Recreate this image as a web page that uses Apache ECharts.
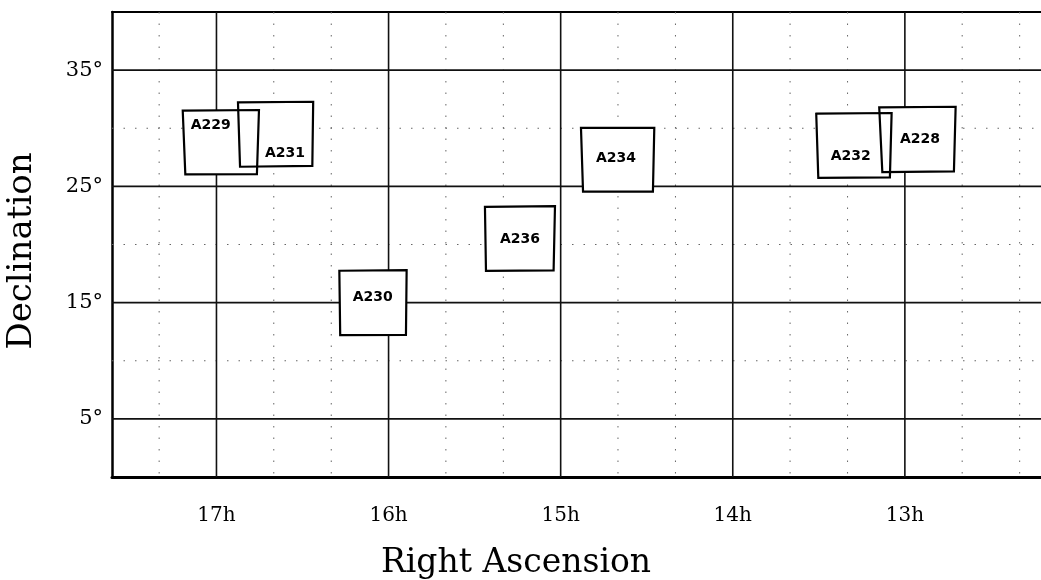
<!DOCTYPE html>
<html><head><meta charset="utf-8">
<script src="https://cdn.jsdelivr.net/npm/echarts@6/dist/echarts.min.js"></script>
<style>html,body{margin:0;padding:0;background:#fff}#c{width:1041px;height:580px}</style>
</head><body><div id="c"></div>
<script>
// Field names and their corner coordinates (TL, TR, BR, BL): RA in hours, Dec in degrees
const fieldNames = ['A228','A229','A230','A231','A232','A234','A236'];
const cornerRA = [
  [13.149,12.705,12.715,13.131],
  [17.196,16.753,16.765,17.181],
  [16.286,15.895,15.899,16.281],
  [16.875,16.438,16.443,16.863],
  [13.515,13.077,13.087,13.503],
  [14.882,14.456,14.464,14.870],
  [15.440,15.033,15.041,15.434]
];
const cornerDec = [
  [31.80,31.85,26.29,26.23],
  [31.51,31.57,26.06,26.03],
  [17.74,17.80,12.23,12.20],
  [32.23,32.28,26.77,26.69],
  [31.25,31.31,25.77,25.74],
  [30.04,30.04,24.54,24.54],
  [23.24,23.30,17.77,17.74]
];
const labelRA  = [12.912,17.033,16.092,16.602,13.315,14.679,15.236];
const labelDec = [29.07,30.28,15.45,27.84,27.55,27.41,20.44];

// Axis ticks / grid values
const raTicks  = [17,16,15,14,13];
const decTicks = [5,15,25,35];
const raMinor  = [17.333,16.667,16.333,15.667,15.333,14.667,14.333,13.667,13.333,12.667,12.333];
const decMinor = [10,20,30];
const raRange  = [12.209, 17.607];
const decRange = [0, 40];

const serif = '"DejaVu Serif", serif';
const chart = echarts.init(document.getElementById('c'), null, {renderer:'canvas'});

function boxData(){ return fieldNames.map((n,i)=>[i]); }

function gridSeries(vals, vertical, style, z){
  return {
    type:'custom', z:z, silent:true, clip:true,
    data: vals.map(v=>[v]),
    renderItem:function(params, api){
      const v = api.value(0);
      const cs = params.coordSys;
      let p1, p2;
      if (vertical){
        const x = api.coord([v, decRange[0]])[0];
        p1=[x, cs.y]; p2=[x, cs.y+cs.height];
      } else {
        const y = api.coord([raRange[0], v])[1];
        p1=[cs.x, y]; p2=[cs.x+cs.width, y];
      }
      return {type:'line', shape:{x1:p1[0],y1:p1[1],x2:p2[0],y2:p2[1]}, style:style};
    }
  };
}

const solid = {stroke:'#111', lineWidth:1.6};
const dotted = {stroke:'#666', lineWidth:1, lineDash:[1.5,10]};

const option = {
  backgroundColor:'#fff',
  animation:false,
  grid:{left:112, top:12, right:0, bottom:103},
  xAxis:[{
    type:'value', inverse:true, min:raRange[0], max:raRange[1],
    position:'bottom',
    axisLine:{show:true, onZero:false, lineStyle:{color:'#000', width:3}},
    axisTick:{show:false},
    splitLine:{show:false},
    axisLabel:{customValues:raTicks, formatter:v=>v+'h', margin:29,
      fontFamily:serif, fontSize:20, color:'#000'}
  },{
    type:'value', inverse:true, min:raRange[0], max:raRange[1],
    position:'top',
    axisLine:{show:true, onZero:false, lineStyle:{color:'#000', width:2}},
    axisTick:{show:false}, axisLabel:{show:false}, splitLine:{show:false}
  }],
  yAxis:{
    type:'value', min:decRange[0], max:decRange[1],
    axisLine:{show:true, onZero:false, lineStyle:{color:'#000', width:2.5}},
    axisTick:{show:false},
    splitLine:{show:false},
    axisLabel:{customValues:decTicks, formatter:v=>v+'°', margin:9,
      fontFamily:serif, fontSize:21, color:'#000', padding:[0,0,10,0]}
  },
  graphic:[
    {type:'text', x:516, y:563, style:{text:'Right Ascension', font:'33px "DejaVu Serif", serif', fill:'#000', align:'center', verticalAlign:'middle'}},
    {type:'text', x:22, y:251, rotation:Math.PI/2, style:{text:'Declination', font:'34px "DejaVu Serif", serif', fill:'#000', align:'center', verticalAlign:'middle'}}
  ],
  series:[
    gridSeries(raMinor, true, dotted, 1),
    gridSeries(decMinor, false, dotted, 1),
    gridSeries(raTicks, true, solid, 2),
    gridSeries(decTicks, false, solid, 2),
    {
      type:'custom', z:3, silent:true, clip:true, data:boxData(),
      renderItem:function(params, api){
        const i = api.value(0);
        const pts = cornerRA[i].map((ra,k)=>api.coord([ra, cornerDec[i][k]]));
        return {type:'polygon', shape:{points:pts}, style:{fill:'#fff', stroke:null}};
      }
    },
    {
      type:'custom', z:4, silent:true, clip:true, data:boxData(),
      renderItem:function(params, api){
        const i = api.value(0);
        const pts = cornerRA[i].map((ra,k)=>api.coord([ra, cornerDec[i][k]]));
        const lp = api.coord([labelRA[i], labelDec[i]]);
        return {type:'group', children:[
          {type:'polygon', shape:{points:pts}, style:{fill:null, stroke:'#000', lineWidth:2.2}},
          {type:'text', x:lp[0], y:lp[1], style:{text:fieldNames[i], font:'bold 14px "DejaVu Sans", sans-serif', fill:'#000', align:'center', verticalAlign:'middle'}}
        ]};
      }
    }
  ]
};
chart.setOption(option);
</script></body></html>
